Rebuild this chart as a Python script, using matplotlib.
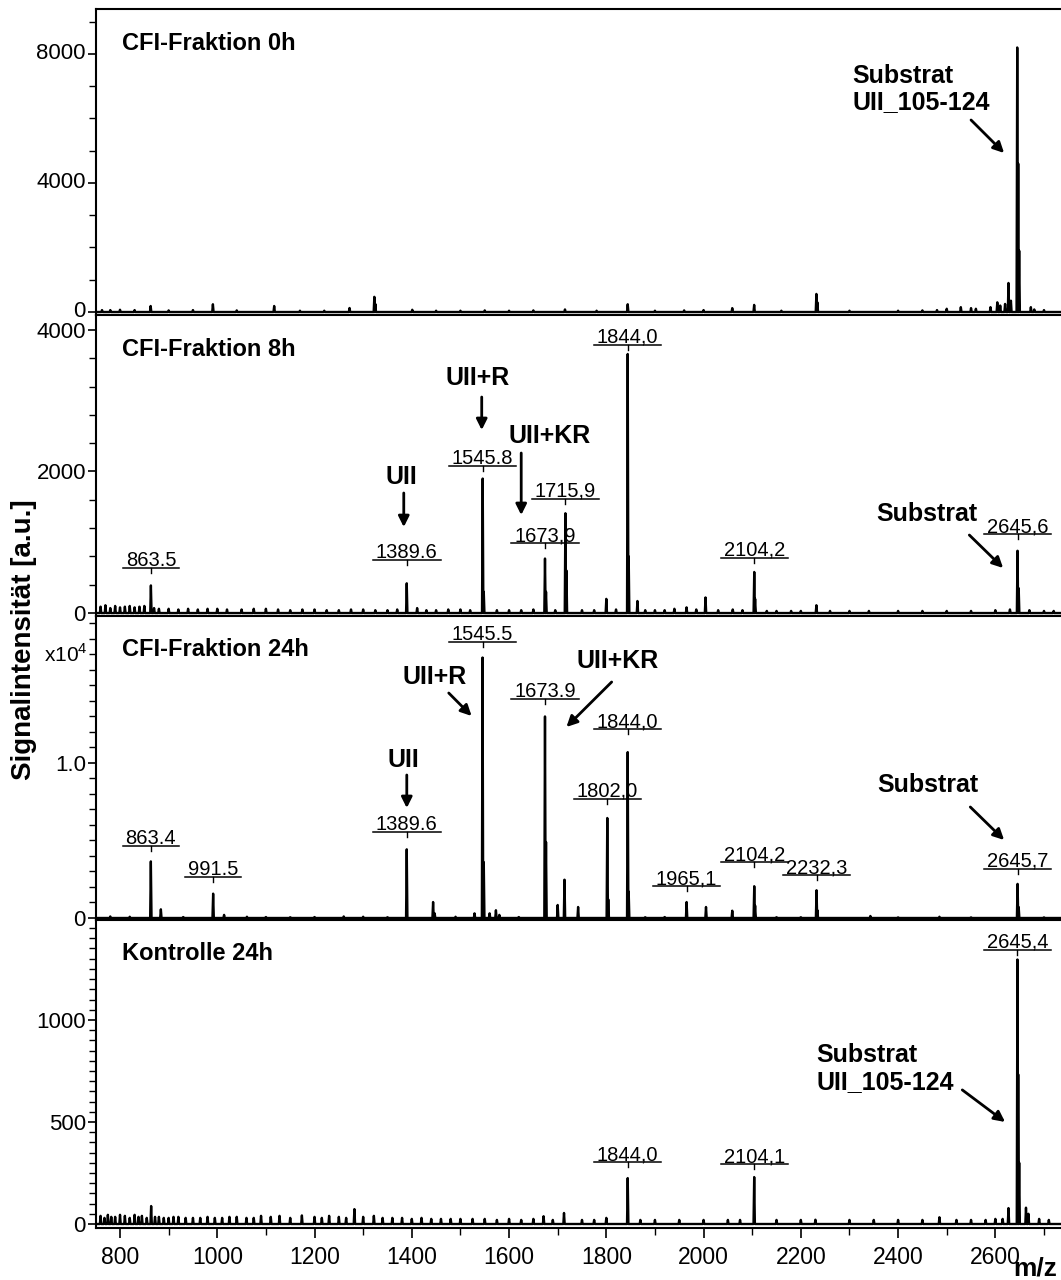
import matplotlib
matplotlib.use("Agg")
import matplotlib.pyplot as plt
from matplotlib.ticker import MultipleLocator, FuncFormatter
from matplotlib.transforms import ScaledTranslation

plt.rcParams['font.family'] = ['Liberation Sans', 'DejaVu Sans']
plt.rcParams['mathtext.fontset'] = 'custom'
plt.rcParams['mathtext.rm'] = 'Liberation Sans'

# ---------------- data (m/z, intensity) ----------------
# CFI-Fraktion 0h
p0_mz = [763, 780, 800, 830, 863, 900, 950, 991, 1040, 1117, 1170, 1220, 1272, 1323, 1325,
         1401, 1450, 1500, 1550, 1600, 1650, 1715, 1780, 1844, 1900, 1960, 2000, 2059, 2104,
         2160, 2232, 2234, 2300, 2400, 2450, 2480, 2500, 2529, 2550, 2560, 2590, 2604, 2610,
         2620, 2627, 2632, 2645, 2647, 2649, 2673, 2680, 2700]
p0_int = [60, 60, 70, 60, 186, 50, 60, 240, 50, 186, 40, 40, 124, 470, 250,
          70, 40, 40, 50, 40, 50, 80, 40, 240, 40, 50, 60, 120, 220,
          40, 560, 300, 40, 40, 50, 60, 100, 150, 120, 100, 150, 300, 200,
          250, 900, 350, 8200, 4600, 1900, 150, 80, 60]

# CFI-Fraktion 8h
p8_mz = [760, 770, 780, 790, 800, 810, 820, 830, 840, 850, 863.5, 870, 880, 900, 920, 940,
         960, 980, 1000, 1020, 1050, 1075, 1100, 1125, 1150, 1175, 1200, 1225, 1250, 1275,
         1300, 1325, 1350, 1370, 1389.6, 1411, 1430, 1450, 1475, 1500, 1520, 1545.8, 1548,
         1575, 1600, 1625, 1650, 1673.9, 1676, 1695, 1715.9, 1718, 1750, 1775, 1800, 1820,
         1844.0, 1846, 1864, 1880, 1900, 1920, 1940, 1965, 1985, 2004, 2030, 2060, 2080,
         2104.2, 2106, 2130, 2150, 2180, 2200, 2232, 2260, 2300, 2340, 2400, 2450, 2500,
         2550, 2600, 2630, 2645.6, 2648, 2670, 2700, 2720]
p8_int = [90, 110, 70, 100, 80, 90, 100, 80, 90, 100, 390, 70, 60, 60, 50, 60,
          50, 60, 60, 50, 50, 60, 60, 50, 40, 50, 50, 40, 40, 50,
          50, 40, 40, 50, 420, 70, 40, 40, 50, 50, 40, 1900, 300,
          40, 40, 40, 50, 770, 300, 40, 1410, 600, 40, 40, 200, 50,
          3660, 800, 170, 40, 40, 40, 60, 80, 50, 220, 40, 50, 40,
          580, 200, 30, 30, 30, 30, 110, 30, 30, 30, 30, 30, 30,
          30, 40, 50, 880, 350, 40, 30, 30]

# CFI-Fraktion 24h
p24_mz = [780, 820, 863.4, 884, 930, 991.5, 1014, 1061, 1100, 1150, 1200, 1260, 1300, 1350,
          1389.6, 1443.8, 1447, 1490, 1529, 1545.5, 1548, 1560, 1573, 1580, 1620, 1673.9,
          1676, 1700, 1714, 1742, 1802.0, 1804, 1844.0, 1846, 1880, 1920, 1965.1, 2005,
          2059, 2104.2, 2106, 2150, 2200, 2232.3, 2234, 2343, 2400, 2485, 2550, 2645.7,
          2648, 2700]
p24_int = [100, 80, 3650, 560, 60, 1570, 200, 80, 60, 50, 60, 100, 80, 50,
           4430, 1030, 300, 80, 300, 16800, 3600, 300, 500, 200, 60, 13000,
           4900, 840, 2470, 710, 6450, 1200, 10700, 1700, 50, 60, 1030, 710,
           470, 2050, 800, 50, 50, 1790, 500, 130, 40, 80, 40, 2200,
           700, 40]

# Kontrolle 24h
pk_mz = [760, 768, 775, 782, 790, 800, 810, 820, 830, 838, 845, 855, 864, 872, 880, 890,
         900, 910, 920, 935, 950, 965, 980, 995, 1010, 1025, 1040, 1060, 1075, 1090, 1110,
         1128, 1150, 1174, 1200, 1215, 1230, 1250, 1265, 1282, 1300, 1322, 1340, 1360,
         1380, 1400, 1420, 1440, 1460, 1480, 1500, 1525, 1550, 1575, 1600, 1625, 1650,
         1671, 1690, 1713, 1750, 1775, 1800, 1844.0, 1870, 1900, 1950, 2000, 2050, 2075,
         2104.1, 2150, 2200, 2230, 2300, 2350, 2400, 2450, 2485, 2520, 2550, 2580, 2600,
         2615, 2627, 2645.4, 2647, 2649, 2663, 2668, 2690, 2710]
pk_int = [40, 30, 45, 35, 35, 45, 40, 30, 45, 35, 40, 30, 88, 35, 35, 30,
          30, 35, 35, 30, 30, 30, 35, 30, 30, 35, 35, 30, 30, 40, 35,
          40, 30, 42, 35, 30, 40, 35, 30, 73, 35, 40, 30, 30,
          30, 25, 30, 25, 25, 25, 25, 25, 25, 20, 25, 20, 25,
          38, 20, 54, 20, 20, 30, 225, 20, 20, 20, 20, 20, 20,
          230, 20, 20, 21, 20, 20, 20, 20, 33, 20, 20, 20, 25,
          25, 78, 1296, 733, 300, 80, 50, 25, 20]

titles = ['CFI-Fraktion 0h', 'CFI-Fraktion 8h', 'CFI-Fraktion 24h', 'Kontrolle 24h']

# labelled peaks
p0_lab_mz, p0_lab_txt = [], []
p8_lab_mz = [863.5, 1389.6, 1545.8, 1673.9, 1715.9, 1844.0, 2104.2, 2645.6]
p8_lab_txt = ['863.5', '1389.6', '1545.8', '1673,9', '1715,9', '1844,0', '2104,2', '2645,6']
p24_lab_mz = [863.4, 991.5, 1389.6, 1545.5, 1673.9, 1802.0, 1844.0, 1965.1, 2104.2, 2232.3, 2645.7]
p24_lab_txt = ['863.4', '991.5', '1389.6', '1545.5', '1673.9', '1802,0', '1844,0', '1965,1',
               '2104,2', '2232,3', '2645,7']
pk_lab_mz = [1844.0, 2104.1, 2645.4]
pk_lab_txt = ['1844,0', '2104,1', '2645,4']

# ---------------- layout ----------------
W, H = 1061, 1280
left_px = 95.7
bounds = [9, 315, 616, 919.5, 1228]
ylims = [(-93, 9393), (-42, 4211), (-97, 19479), (-19.6, 1492)]
major = [4000, 2000, 10000, 500]
minor = [1000, 400, 1000, 50]
lab_gap = [[], [14.7, 20.7, 9.3, 12.3, 11.7, 6, 11.3, 13.4],
           [12.6, 14, 14, 13, 14, 16, 20, 13, 21, 12, 12],
           [13, 10, 7]]
half_width = 1.4  # half width of a peak in m/z units

fig = plt.figure(figsize=(W / 100, H / 100), dpi=100)
series = [(p0_mz, p0_int), (p8_mz, p8_int), (p24_mz, p24_int), (pk_mz, pk_int)]
labels = [(p0_lab_mz, p0_lab_txt), (p8_lab_mz, p8_lab_txt),
          (p24_lab_mz, p24_lab_txt), (pk_lab_mz, pk_lab_txt)]

axes = []
label_texts = []
for i in range(4):
    top, bot = bounds[i], bounds[i + 1]
    ax = fig.add_axes([left_px / W, 1 - bot / H, (W - left_px) / W, (bot - top) / H])
    axes.append(ax)
    mz, inten = series[i]
    # spectrum trace: baseline with a narrow spike at every peak
    xs, ys = [745], [0]
    for m, h in sorted(zip(mz, inten)):
        xs += [m - half_width, m, m + half_width]
        ys += [0, h, 0]
    xs.append(2740)
    ys.append(0)
    ax.plot(xs, ys, color='black', lw=1.7, zorder=3)
    ax.set_xlim(750, 2735)
    ax.set_ylim(*ylims[i])
    ax.yaxis.set_major_locator(MultipleLocator(major[i]))
    ax.yaxis.set_minor_locator(MultipleLocator(minor[i]))
    ax.xaxis.set_major_locator(MultipleLocator(200))
    ax.xaxis.set_minor_locator(MultipleLocator(100))
    ax.tick_params(axis='y', which='major', length=6, width=1.2, labelsize=16, pad=1)
    ax.tick_params(axis='y', which='minor', length=5, width=1.0)
    ax.tick_params(axis='x', which='major', length=7, width=1.2, labelsize=16.5, pad=6)
    ax.tick_params(axis='x', which='minor', length=5, width=1.0)
    if i < 3:
        ax.tick_params(axis='x', which='both', bottom=False, labelbottom=False)
    ax.spines['right'].set_visible(False)
    for s in ['left', 'bottom', 'top']:
        ax.spines[s].set_linewidth(1.5)
    ax.text(0.027, 1 - 34 / (bot - top), titles[i], transform=ax.transAxes,
            fontsize=17, fontweight='bold', va='center', ha='left')

    peak_h = dict(zip(mz, inten))
    lmz, ltxt = labels[i]
    for m, t, g in zip(lmz, ltxt, lab_gap[i]):
        txt = ax.annotate(t, xy=(m, peak_h[m]), xytext=(0, (g + 1) * 0.72),
                          textcoords='offset points', ha='center', va='bottom',
                          fontsize=14.5)
        label_texts.append((ax, m, txt))

axes[2].yaxis.set_major_formatter(
    FuncFormatter(lambda v, _: '0' if v == 0 else f'{v / 1e4:.1f}'))

# bold annotations with arrows
def note(ax, text, xy, arrow_from, arrow_to, ha='center'):
    ax.text(xy[0], xy[1], text, fontsize=18, fontweight='bold', ha=ha, va='center',
            linespacing=1.15)
    ax.annotate('', xy=arrow_to, xytext=arrow_from,
                arrowprops=dict(arrowstyle='-|>', color='black', lw=2,
                                mutation_scale=16, shrinkA=0, shrinkB=0))

note(axes[0], 'Substrat\nUII_105-124', (2306, 6913), (2550, 5952), (2618, 4929), ha='left')
note(axes[1], 'UII+R', (1534.6, 3320), (1543.8, 3052), (1543.8, 2586))
note(axes[1], 'UII+KR', (1683.5, 2501), (1625, 2261), (1625, 1385))
note(axes[1], 'UII', (1379.4, 1922), (1383.5, 1696), (1383.5, 1215))
note(axes[1], 'Substrat', (2460, 1399), (2546.5, 1102), (2616, 636))
note(axes[2], 'UII+R', (1447, 15545), (1476, 14512), (1523, 13029))
note(axes[2], 'UII+KR', (1823, 16576), (1811, 15222), (1718, 12320))
note(axes[2], 'UII', (1383.5, 10191), (1389.7, 9224), (1389.7, 7095))
note(axes[2], 'Substrat', (2462, 8578), (2548.5, 7160), (2618, 5031))
note(axes[3], 'Substrat\nUII_105-124', (2232, 760), (2532, 657), (2620, 500), ha='left')

fig.text(88 / W, 1 - 655 / H, r'x10$^4$', ha='right', va='center', fontsize=15)
fig.text(24 / W, 1 - 640 / H, 'Signalintensität [a.u.]', rotation=90, ha='center',
         va='center', fontsize=20, fontweight='bold')
fig.text(1035 / W, 1 - 1269 / H, 'm/z', ha='center', va='center', fontsize=19,
         fontweight='bold')

# underline the peak labels with a small tick to the peak
fig.canvas.draw()
renderer = fig.canvas.get_renderer()
for ax, m, txt in label_texts:
    bb = txt.get_window_extent(renderer)
    inv = ax.transData.inverted()
    xpk = ax.transData.transform((m, 0))[0]
    (x0, y0), (x1, _) = inv.transform([(bb.x0 - 3, bb.y0 + 2), (bb.x1 + 3, bb.y0 + 2)])
    _, ytk = inv.transform((xpk, bb.y0 - 3))
    ax.plot([x0, x1], [y0, y0], color='black', lw=1.1, zorder=4)
    ax.plot([m, m], [y0, ytk], color='black', lw=1.0, zorder=4)

# lift the top panel's tick labels a little so "0" clears the "4000" below
lift = ScaledTranslation(0, 2 / 72, fig.dpi_scale_trans)
for tick in axes[0].yaxis.get_major_ticks():
    tick.label1.set_transform(tick.label1.get_transform() + lift)

fig.savefig('out.png', dpi=100)
